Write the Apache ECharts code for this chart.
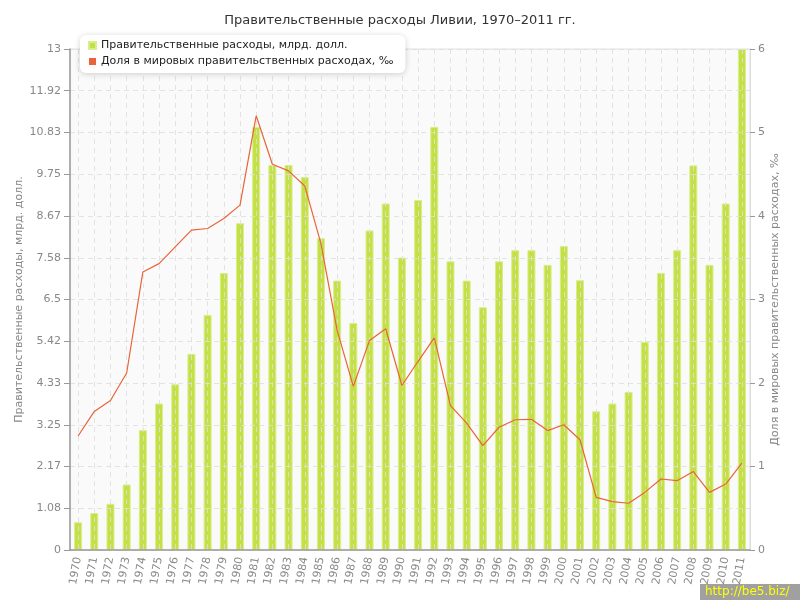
<!DOCTYPE html>
<html>
<head>
<meta charset="utf-8">
<script src="https://cdn.jsdelivr.net/npm/echarts@6/dist/echarts.min.js"></script>
<style>html,body{margin:0;padding:0;background:#fff}#c{width:800px;height:600px}</style>
</head>
<body>
<div id="c"></div>
<script>
const years = ["1970","1971","1972","1973","1974","1975","1976","1977","1978","1979","1980","1981","1982","1983","1984","1985","1986","1987","1988","1989","1990","1991","1992","1993","1994","1995","1996","1997","1998","1999","2000","2001","2002","2003","2004","2005","2006","2007","2008","2009","2010","2011"];
const spending = [0.72,0.96,1.20,1.70,3.11,3.80,4.30,5.09,6.10,7.19,8.48,10.98,9.99,9.99,9.68,8.09,6.99,5.89,8.29,8.99,7.59,9.08,10.98,7.49,6.99,6.30,7.49,7.78,7.78,7.40,7.89,7.00,3.60,3.80,4.10,5.40,7.19,7.78,9.98,7.40,8.99,13.00];
const share = [1.365,1.66,1.79,2.12,3.33,3.43,3.63,3.83,3.85,3.97,4.13,5.20,4.62,4.54,4.36,3.67,2.63,1.96,2.51,2.65,1.97,2.26,2.54,1.73,1.52,1.25,1.47,1.56,1.565,1.43,1.50,1.32,0.63,0.58,0.56,0.69,0.85,0.83,0.94,0.69,0.79,1.04];
const leftMax = 13, rightMax = 6;
const titleText = "Правительственные расходы Ливии, 1970–2011 гг.";
const seriesNames = ["Правительственные расходы, млрд. долл.", "Доля в мировых правительственных расходах, ‰"];
const leftName = "Правительственные расходы, млрд. долл.";
const rightName = "Доля в мировых правительственных расходах, ‰";

const FONT = "DejaVu Sans";
const chart = echarts.init(document.getElementById('c'), null, {renderer: 'canvas'});
const gridLine = {show: true, lineStyle: {color: 'rgba(222,222,222,0.85)', type: [5, 4], width: 1}};
chart.setOption({
  animation: false,
  backgroundColor: '#ffffff',
  textStyle: {fontFamily: FONT},
  title: {
    text: titleText, left: 'center', top: 9,
    textStyle: {fontFamily: FONT, fontSize: 13, fontWeight: 'normal', color: '#333'}
  },
  legend: {
    orient: 'vertical', left: 80, top: 35,
    padding: [5, 12, 6, 8], itemGap: 5,
    backgroundColor: '#fff', borderRadius: 6,
    shadowBlur: 6, shadowColor: 'rgba(0,0,0,0.18)', shadowOffsetY: 1,
    icon: 'rect', itemWidth: 7, itemHeight: 7,
    textStyle: {fontFamily: FONT, fontSize: 11, color: '#222'},
    data: seriesNames
  },
  grid: {
    left: 70, right: 50, top: 49, bottom: 50,
    show: true, backgroundColor: '#fafafa', borderColor: '#e0e0e0', borderWidth: 1
  },
  xAxis: {
    type: 'category', data: years, z: 3,
    axisLine: {lineStyle: {color: '#999', width: 1.5}},
    axisTick: {alignWithLabel: true, length: 5, lineStyle: {color: '#999'}},
    axisLabel: {rotate: 80, color: '#888', fontFamily: FONT, fontSize: 11, margin: 7, interval: 0},
    splitLine: Object.assign({alignWithLabel: true, interval: 0}, gridLine)
  },
  yAxis: [{
    type: 'value', min: 0, max: leftMax, interval: leftMax / 12, z: 3,
    name: leftName, nameLocation: 'middle', nameRotate: 90, nameGap: 45, nameMoveOverlap: false,
    nameTextStyle: {color: '#888', fontFamily: FONT, fontSize: 11},
    axisLine: {show: true, lineStyle: {color: '#999', width: 1.5}},
    axisTick: {show: true, length: 6, lineStyle: {color: '#999'}},
    axisLabel: {color: '#888', fontFamily: FONT, fontSize: 11, margin: 9,
      formatter: v => String(parseFloat(v.toFixed(2)))},
    splitLine: gridLine
  }, {
    type: 'value', min: 0, max: rightMax, interval: 1, z: 3,
    name: rightName, nameLocation: 'middle', nameRotate: 90, nameGap: 20, nameMoveOverlap: false,
    nameTextStyle: {color: '#888', fontFamily: FONT, fontSize: 11},
    axisLine: {show: true, lineStyle: {color: '#ddd', width: 1}},
    axisTick: {show: true, length: 5, lineStyle: {color: '#999'}},
    axisLabel: {color: '#888', fontFamily: FONT, fontSize: 11, margin: 8},
    splitLine: {show: false}
  }],
  series: [{
    name: seriesNames[0], type: 'bar', yAxisIndex: 0, z: 2,
    data: spending, barWidth: 8,
    itemStyle: {color: '#c4e044', borderColor: '#d8ee8e', borderWidth: 1}
  }, {
    name: seriesNames[1], type: 'line', yAxisIndex: 1, z: 5,
    data: share, symbol: 'none',
    itemStyle: {color: '#e8643a'},
    lineStyle: {color: '#e8643a', width: 1.2}
  }],
  graphic: [{
    type: 'group', right: 0, bottom: 0, z: 100,
    children: [
      {type: 'rect', shape: {x: 0, y: 0, width: 100, height: 16}, style: {fill: '#a0a0a0'}},
      {type: 'text', x: 5, y: 2, style: {text: 'http://be5.biz/', fill: '#ffff00', font: '12px "DejaVu Sans"'}}
    ]
  }]
});
</script>
</body>
</html>
